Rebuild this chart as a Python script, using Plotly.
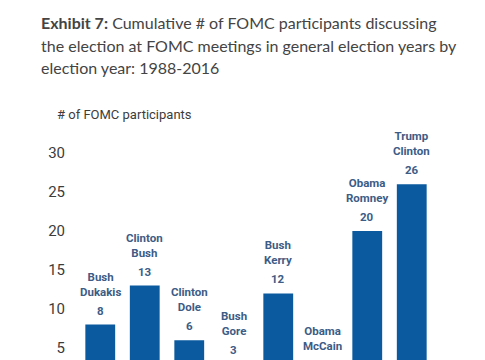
import plotly.graph_objects as go

# ---- data ----
years = ["1988", "1992", "1996", "2000", "2004", "2008", "2012", "2016"]
candidate_a = ["Bush", "Clinton", "Clinton", "Bush", "Bush", "Obama", "Obama", "Trump"]
candidate_b = ["Dukakis", "Bush", "Dole", "Gore", "Kerry", "McCain", "Romney", "Clinton"]
participants = [8, 13, 6, 3, 12, 1, 20, 26]
y_ticks = [5, 10, 15, 20, 25, 30]

# ---- layout constants ----
W, H = 485, 400
ML, MR, MT, MB = 78, 51, 153, 13
PW = W - ML - MR
PH = H - MT - MB

def px_x(px):
    return (px - ML) / PW

def px_y(py):
    return (H - MB - py) / PH

BAR_COLOR = "#0B5A9F"
LABEL_COLOR = "#3D5C86"
TEXT_COLOR = "#3c3c3c"
LABEL_SIZE = 11.5

fig = go.Figure(go.Bar(
    x=years, y=participants, marker=dict(color=BAR_COLOR, line=dict(width=0)),
    hoverinfo="skip",
))

annotations = []
for i, (a, b, v) in enumerate(zip(candidate_a, candidate_b, participants)):
    annotations.append(dict(
        x=i, y=v, xref="x", yref="y", text=f"<b>{v}</b>", showarrow=False,
        yanchor="bottom", yshift=5,
        font=dict(family="Roboto", size=LABEL_SIZE, color=LABEL_COLOR)))
    annotations.append(dict(
        x=i, y=v, xref="x", yref="y", text=f"<b>{a}<br>{b}</b>", showarrow=False,
        yanchor="bottom", yshift=24,
        font=dict(family="Roboto", size=LABEL_SIZE, color=LABEL_COLOR)))

# y-axis title
annotations.append(dict(
    x=px_x(55), y=px_y(115), xref="paper", yref="paper", xanchor="left", yanchor="middle",
    text="# of FOMC participants", showarrow=False,
    font=dict(family="Roboto", size=13, color=TEXT_COLOR)))

# exhibit title lines
title_lines = [
    "<b>Exhibit 7:</b> Cumulative # of FOMC participants discussing",
    "the election at FOMC meetings in general election years by",
    "election year: 1988-2016",
]
for line, py in zip(title_lines, [22, 45, 68]):
    annotations.append(dict(
        x=px_x(39), y=px_y(py), xref="paper", yref="paper", xanchor="left", yanchor="middle",
        text=line, showarrow=False,
        font=dict(family="Lato", size=16, color="#444444")))

fig.update_layout(
    width=W, height=H,
    margin=dict(l=ML, r=MR, t=MT, b=MB, pad=0),
    paper_bgcolor="white", plot_bgcolor="white",
    bargap=0.33,
    showlegend=False,
    annotations=annotations,
    xaxis=dict(type="category", showticklabels=False, showgrid=False, zeroline=False,
               showline=False, ticks="", range=[-0.5, 7.5]),
    yaxis=dict(range=[0, 30], tickvals=y_ticks, showgrid=False, zeroline=False,
               showline=False, ticks="", ticklabelstandoff=12,
               tickfont=dict(family="Roboto", size=15, color=TEXT_COLOR)),
)

fig.write_html(
    "out.html",
    config={"displayModeBar": False},
    post_script="document.documentElement.style.overflow='hidden';"
                "document.body.style.overflow='hidden';document.body.style.margin='0';",
)
